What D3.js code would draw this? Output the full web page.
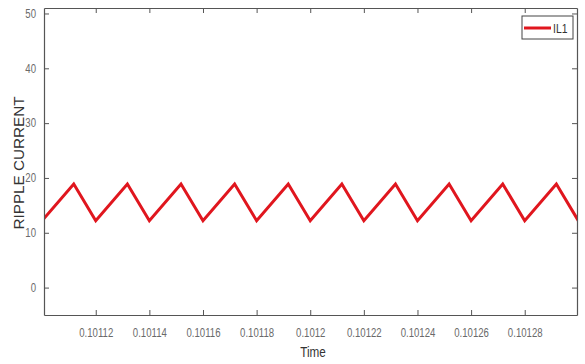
<!DOCTYPE html>
<html><head><meta charset="utf-8">
<script src="https://cdn.jsdelivr.net/npm/d3@7"></script>
<style>
html,body{margin:0;padding:0;background:#fff;}
svg{display:block;}
text{font-family:"Liberation Sans",Arial,sans-serif;}
</style></head>
<body>
<svg id="c" width="585" height="364"></svg>
<script>
// Data
const times = [0.10110, 0.1011118, 0.10112, 0.1011318, 0.10114, 0.1011518, 0.10116, 0.1011718,
  0.10118, 0.1011918, 0.10120, 0.1012118, 0.10122, 0.1012318, 0.10124, 0.1012518,
  0.10126, 0.1012718, 0.10128, 0.1012918, 0.10130];
const il1 = [12.2, 18.9, 12.2, 18.9, 12.2, 18.9, 12.2, 18.9, 12.2, 18.9, 12.2,
  18.9, 12.2, 18.9, 12.2, 18.9, 12.2, 18.9, 12.2, 18.9, 12.2];
const xTicks = [0.10112, 0.10114, 0.10116, 0.10118, 0.1012, 0.10122, 0.10124, 0.10126, 0.10128];
const xTickLabels = ["0.10112","0.10114","0.10116","0.10118","0.1012","0.10122","0.10124","0.10126","0.10128"];
const yTicks = [0, 10, 20, 30, 40, 50];
const seriesName = "IL1";
const xLabel = "Time";
const yLabel = "RIPPLE CURRENT";

const svg = d3.select("#c");
const L = 44, R = 577, T = 8, B = 315;
const x = d3.scaleLinear().domain([0.1011007, 0.1012995]).range([L, R]);
const y = d3.scaleLinear().domain([-5, 51]).range([B, T]);
const axisCol = "#555";
const red = "#e0161e";

// condense text (narrow font look)
function narrow(sel, f){
  sel.each(function(){
    const w = this.getComputedTextLength();
    if (w > 0) d3.select(this).attr("textLength", w*f).attr("lengthAdjust","spacingAndGlyphs");
  });
}

svg.append("clipPath").attr("id","clip").append("rect")
  .attr("x", L).attr("y", T).attr("width", R-L).attr("height", B-T);

// line
svg.append("path")
  .datum(times.map((t,i)=>[t, il1[i]]))
  .attr("clip-path","url(#clip)")
  .attr("fill","none").attr("stroke",red).attr("stroke-width",3)
  .attr("stroke-linejoin","miter")
  .attr("d", d3.line().x(d=>x(d[0])).y(d=>y(d[1])));

// axes
const fmt = d => xTickLabels[xTicks.indexOf(d)];
const gx = svg.append("g").attr("transform",`translate(0,${B})`)
  .call(d3.axisBottom(x).tickValues(xTicks).tickFormat(fmt).tickSizeInner(-5).tickSizeOuter(0).tickPadding(13));
const gxt = svg.append("g").attr("transform",`translate(0,${T})`)
  .call(d3.axisTop(x).tickValues(xTicks).tickFormat("").tickSizeInner(-5).tickSizeOuter(0));
const gy = svg.append("g").attr("transform",`translate(${L},0)`)
  .call(d3.axisLeft(y).tickValues(yTicks).tickSizeInner(-5).tickSizeOuter(0).tickPadding(8));
const gyr = svg.append("g").attr("transform",`translate(${R},0)`)
  .call(d3.axisRight(y).tickValues(yTicks).tickFormat("").tickSizeInner(-5).tickSizeOuter(0));
[gx,gxt,gy,gyr].forEach(g=>{
  g.select(".domain").attr("stroke",axisCol).attr("stroke-width",1.2);
  g.selectAll(".tick line").attr("stroke",axisCol);
  g.selectAll(".tick text").attr("fill","#6a6a6a").attr("font-family","'Liberation Sans',Arial,sans-serif").style("font-size","12px");
});
narrow(gx.selectAll(".tick text"), 0.8);
narrow(gy.selectAll(".tick text"), 0.8);

// axis labels
const tx = svg.append("text").attr("x",313).attr("y",357).attr("text-anchor","middle")
  .attr("fill","#333").style("font-size","15px").text(xLabel);
narrow(tx, 0.78);
const ty = svg.append("text").attr("transform",`translate(24,163) rotate(-90)`)
  .attr("text-anchor","middle").attr("fill","#333").style("font-size","15px")
  .text(yLabel);
ty.attr("textLength",133).attr("lengthAdjust","spacingAndGlyphs");

// legend
const lg = svg.append("g");
lg.append("rect").attr("x",522).attr("y",16).attr("width",51).attr("height",23)
  .attr("fill","#fff").attr("stroke","#444").attr("stroke-width",1);
lg.append("line").attr("x1",524).attr("x2",551).attr("y1",28).attr("y2",28)
  .attr("stroke",red).attr("stroke-width",3);
const lt = lg.append("text").attr("x",553).attr("y",32.5).attr("fill","#333")
  .style("font-size","13px").text(seriesName);
narrow(lt, 0.8);
</script>
</body></html>
